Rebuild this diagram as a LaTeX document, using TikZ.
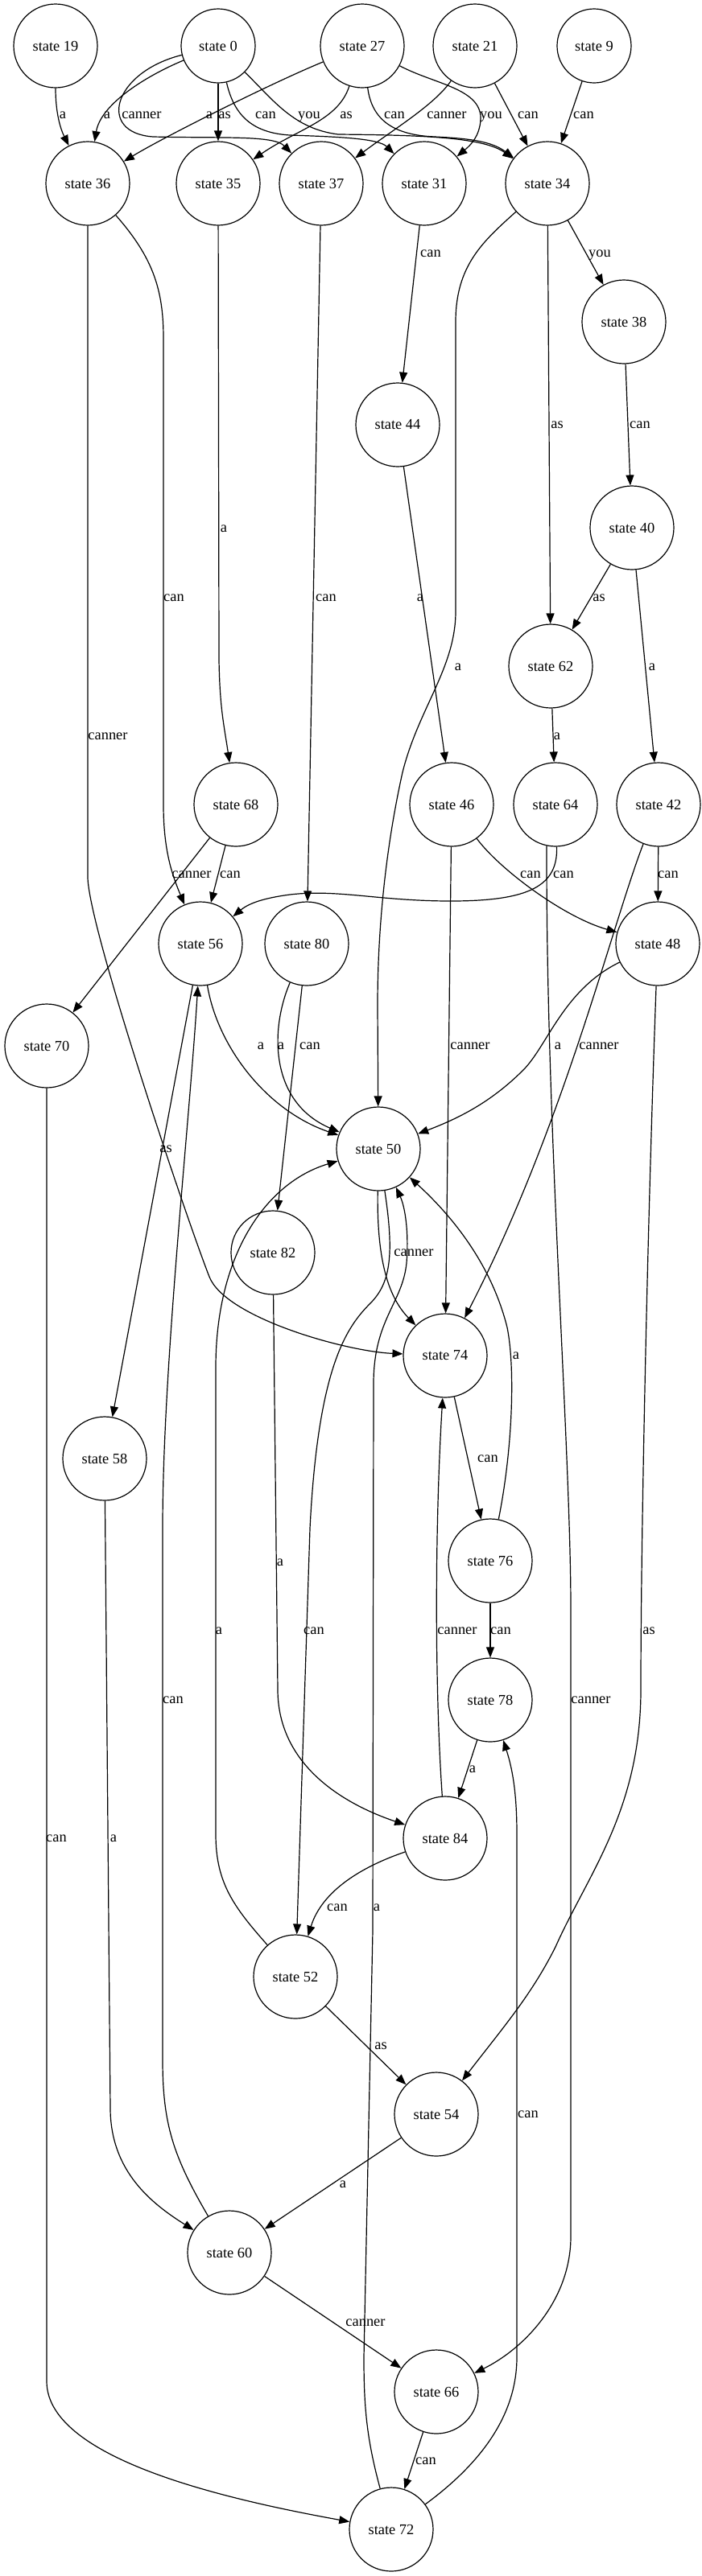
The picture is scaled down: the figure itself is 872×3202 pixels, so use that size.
\documentclass[tikz,border=0pt]{standalone}
\usepackage{fontspec}
\setmainfont{Liberation Serif}
\usetikzlibrary{arrows.meta}
\begin{document}
\begin{tikzpicture}[x=0.5pt,y=-0.5pt,
  st/.style={circle,draw,line width=0.6pt,minimum size=52pt,inner sep=0pt,font=\fontsize{9.2pt}{11pt}\selectfont},
  sm/.style={minimum size=46pt},
  lbl/.style={inner sep=0pt,anchor=base,yshift=-2.1pt,font=\fontsize{9.2pt}{11pt}\selectfont},
  arr/.style={line width=0.6pt,-{Triangle[length=6.5pt,width=5pt]}}
]
\useasboundingbox (0,0) rectangle (872,3202);
% nodes
\node[st] (s19) at (69,57) {state 19};
\node[st,sm] (s0) at (271,57) {state 0};
\node[st] (s27) at (450,57) {state 27};
\node[st] (s21) at (590,57) {state 21};
\node[st,sm] (s9) at (738,57) {state 9};
\node[st] (s36) at (109,228) {state 36};
\node[st] (s35) at (271,228) {state 35};
\node[st] (s37) at (399,228) {state 37};
\node[st] (s31) at (527,228) {state 31};
\node[st] (s34) at (680,228) {state 34};
\node[st] (s38) at (775,400) {state 38};
\node[st] (s44) at (494,528) {state 44};
\node[st] (s40) at (785,656) {state 40};
\node[st] (s62) at (684,828) {state 62};
\node[st] (s68) at (293,1000) {state 68};
\node[st] (s46) at (561,1000) {state 46};
\node[st] (s64) at (690,1000) {state 64};
\node[st] (s42) at (818,1000) {state 42};
\node[st] (s56) at (249,1173) {state 56};
\node[st] (s80) at (381,1173) {state 80};
\node[st] (s48) at (817,1173) {state 48};
\node[st] (s70) at (58,1300) {state 70};
\node[st] (s50) at (470,1428) {state 50};
\node[st] (s82) at (339,1557) {state 82};
\node[st] (s74) at (553,1685) {state 74};
\node[st] (s58) at (130,1813) {state 58};
\node[st] (s76) at (609,1940) {state 76};
\node[st] (s78) at (609,2113) {state 78};
\node[st] (s84) at (553,2285) {state 84};
\node[st] (s52) at (367,2457) {state 52};
\node[st] (s54) at (542,2628) {state 54};
\node[st] (s60) at (285,2800) {state 60};
\node[st] (s66) at (542,2973) {state 66};
\node[st] (s72) at (486,3144) {state 72};
% edges
\draw[arr] (s19) .. controls (69,140) and (75,160) .. (s36);
\draw[arr] (s0) .. controls (180,95) and (125,130) .. (s36);
\draw[arr] (s0) .. controls (140,90) and (120,165) .. (190,170) .. controls (280,172) and (340,168) .. (s37);
\draw[arr] (s27) .. controls (340,102) and (204,170) .. (s36);
\draw[arr] (s0) -- (s35);
\draw[arr] (s0) .. controls (290,140) and (310,165) .. (360,168) .. controls (420,170) and (470,172) .. (s31);
\draw[arr] (s0) .. controls (340,125) and (365,160) .. (420,167) .. controls (520,168) and (600,170) .. (s34);
\draw[arr] (s27) .. controls (420,150) and (370,160) .. (s35);
\draw[arr] (s27) .. controls (462,150) and (490,168) .. (540,170) .. controls (580,172) and (610,175) .. (s34);
\draw[arr] (s21) .. controls (540,130) and (490,160) .. (s37);
\draw[arr] (s27) .. controls (540,105) and (600,110) .. (597,150) .. controls (595,170) and (585,180) .. (s31);
\draw[arr] (s21) -- (s34);
\draw[arr] (s9) -- (s34);
\draw[arr] (s34) -- (s38);
\draw[arr] (s31) -- (s44);
\draw[arr] (s36) .. controls (190,320) and (203,360) .. (203,420) -- (203,1000) .. controls (203,1060) and (215,1090) .. (s56);
\draw[arr] (s36) -- (109,1090) .. controls (109,1150) and (230,1510) .. (260,1587) .. controls (280,1638) and (430,1680) .. (s74);
\draw[arr] (s35) -- (272,820) .. controls (273,880) and (278,900) .. (s68);
\draw[arr] (s37) -- (s80);
\draw[arr] (s44) -- (s46);
\draw[arr] (s34) .. controls (600,300) and (566,330) .. (566,400) -- (566,760) .. controls (566,830) and (520,880) .. (500,960) .. controls (480,1050) and (469,1150) .. (469,1250) -- (s50);
\draw[arr] (s34) -- (s62);
\draw[arr] (s38) -- (s40);
\draw[arr] (s40) -- (s62);
\draw[arr] (s40) -- (s42);
\draw[arr] (s62) -- (s64);
\draw[arr] (s68) -- (s70);
\draw[arr] (s68) -- (s56);
\draw[arr] (s46) .. controls (620,1080) and (700,1140) .. (s48);
\draw[arr] (s64) .. controls (693,1100) and (660,1120) .. (560,1120) .. controls (470,1120) and (420,1105) .. (360,1112) .. controls (330,1116) and (310,1122) .. (s56);
\draw[arr] (s42) -- (s48);
\draw[arr] (s46) -- (s74);
\draw[arr] (s64.258) .. controls (678,1400) and (709,1800) .. (709,2000) -- (709,2780) .. controls (709,2860) and (650,2920) .. (s66);
\draw[arr] (s42) .. controls (760,1150) and (700,1400) .. (s74);
\draw[arr] (s48) .. controls (700,1230) and (680,1300) .. (650,1330) .. controls (610,1370) and (570,1390) .. (s50);
\draw[arr] (s48) .. controls (805,1500) and (796,1900) .. (796,2100) .. controls (796,2250) and (730,2330) .. (690,2420) .. controls (660,2480) and (625,2520) .. (s54);
\draw[arr] (s56) -- (s58);
\draw[arr] (s56) .. controls (270,1300) and (330,1380) .. (s50);
\draw[arr] (s80) .. controls (335,1280) and (335,1370) .. (s50);
\draw[arr] (s80) -- (s82);
\draw[arr] (s70) -- (58,2960) .. controls (58,3060) and (300,3110) .. (s72);
\draw[arr] (s58) -- (137,2620) .. controls (137,2700) and (190,2740) .. (s60);
\draw[arr] (s60) .. controls (215,2680) and (202,2640) .. (202,2560) -- (202,1900) .. controls (202,1700) and (235,1400) .. (s56);
\draw[arr] (s52) .. controls (290,2370) and (268,2340) .. (268,2280) -- (268,1700) .. controls (268,1560) and (330,1470) .. (s50);
\draw[arr] (s50) .. controls (490,1560) and (485,1595) .. (460,1620) .. controls (430,1650) and (395,1700) .. (385,1900) -- (s52);
\draw[arr] (s50) .. controls (468,1560) and (480,1610) .. (s74);
\draw[arr] (s72) .. controls (455,3030) and (452,2990) .. (452,2930) -- (463,2400) -- (464,1720) .. controls (464,1640) and (500,1620) .. (505,1570) .. controls (508,1530) and (503,1500) .. (s50);
\draw[arr] (s76) .. controls (637,1800) and (640,1700) .. (630,1650) .. controls (610,1570) and (560,1510) .. (s50);
\draw[arr] (s74) -- (s76);
\draw[arr] (s76) -- (s78);
\draw[arr] (s78) -- (s84);
\draw[arr] (s84) .. controls (540,2100) and (540,1900) .. (s74);
\draw[arr] (s84) .. controls (450,2320) and (400,2350) .. (s52);
\draw[arr] (s82) -- (345,2100) .. controls (345,2190) and (420,2240) .. (s84);
\draw[arr] (s52) -- (s54);
\draw[arr] (s54) -- (s60);
\draw[arr] (s60) -- (s66);
\draw[arr] (s66) -- (s72);
\draw[arr] (s72) .. controls (600,3060) and (642,3000) .. (642,2930) -- (642,2280) .. controls (642,2230) and (637,2200) .. (s78);
% labels
\node[lbl] (L1) at (78,143) {a};
\node[lbl] (L2) at (133,143) {a};
\node[lbl] (L3) at (176,143) {canner};
\node[lbl] (L4) at (260,143) {a};
\node[lbl] (L5) at (279,143) {as};
\node[lbl] (L6) at (330,143) {can};
\node[lbl] (L7) at (384,143) {you};
\node[lbl] (L8) at (430,143) {as};
\node[lbl] (L9) at (490,143) {can};
\node[lbl] (L10) at (555,143) {canner};
\node[lbl] (L11) at (610,143) {you};
\node[lbl] (L12) at (656,143) {can};
\node[lbl] (L13) at (725,143) {can};
\node[lbl] (L14) at (535,315) {can};
\node[lbl] (L15) at (745,315) {you};
\node[lbl] (L16) at (692,528) {as};
\node[lbl] (L17) at (795,528) {can};
\node[lbl] (L18) at (278,657) {a};
\node[lbl] (L19) at (216,743) {can};
\node[lbl] (L20) at (405,743) {can};
\node[lbl] (L21) at (522,743) {a};
\node[lbl] (L22) at (744,743) {as};
\node[lbl] (L23) at (569,829) {a};
\node[lbl] (L24) at (810,829) {a};
\node[lbl] (L25) at (134,915) {canner};
\node[lbl] (L26) at (692,915) {a};
\node[lbl] (L27) at (238,1087) {canner};
\node[lbl] (L28) at (286,1087) {can};
\node[lbl] (L29) at (659,1087) {can};
\node[lbl] (L30) at (700,1087) {can};
\node[lbl] (L31) at (830,1087) {can};
\node[lbl] (L32) at (324,1300) {a};
\node[lbl] (L33) at (349,1300) {a};
\node[lbl] (L34) at (385,1300) {can};
\node[lbl] (L35) at (584,1300) {canner};
\node[lbl] (L36) at (693,1300) {a};
\node[lbl] (L37) at (744,1300) {canner};
\node[lbl] (L38) at (206,1428) {as};
\node[lbl] (L39) at (514,1557) {canner};
\node[lbl] (L40) at (641,1685) {a};
\node[lbl] (L41) at (606,1813) {can};
\node[lbl] (L42) at (348,1942) {a};
\node[lbl] (L43) at (272,2027) {a};
\node[lbl] (L44) at (390,2027) {can};
\node[lbl] (L45) at (568,2027) {canner};
\node[lbl] (L46) at (622,2027) {can};
\node[lbl] (L47) at (806,2027) {as};
\node[lbl] (L48) at (215,2113) {can};
\node[lbl] (L49) at (734,2113) {canner};
\node[lbl] (L50) at (587,2199) {a};
\node[lbl] (L51) at (70,2285) {can};
\node[lbl] (L52) at (141,2285) {a};
\node[lbl] (L53) at (419,2371) {can};
\node[lbl] (L54) at (468,2371) {a};
\node[lbl] (L55) at (473,2543) {as};
\node[lbl] (L56) at (656,2628) {can};
\node[lbl] (L57) at (426,2715) {a};
\node[lbl] (L58) at (454,2887) {canner};
\node[lbl] (L59) at (529,3059) {can};
\end{tikzpicture}
\end{document}
